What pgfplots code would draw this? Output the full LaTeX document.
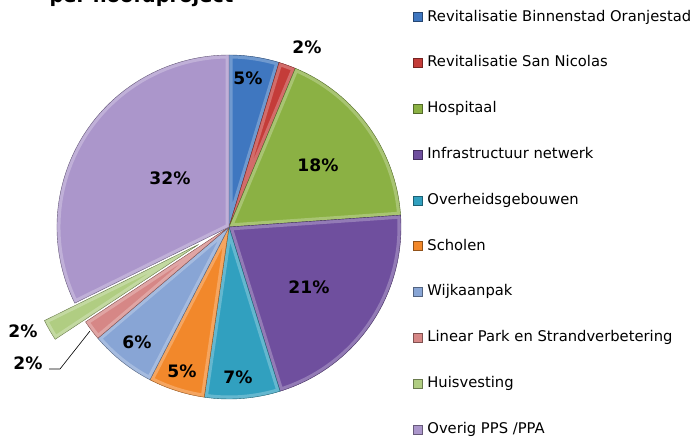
\documentclass[border=0pt]{standalone}
\usepackage{fontspec}
\setmainfont{DejaVu Sans}
\usepackage{pgfplots}
\pgfplotsset{compat=1.18}
\usepackage{pgfplotstable}
\usetikzlibrary{calc}

\definecolor{c0}{HTML}{3F77C0}
\definecolor{c1}{HTML}{C43C39}
\definecolor{c2}{HTML}{8BB144}
\definecolor{c3}{HTML}{6F4F9E}
\definecolor{c4}{HTML}{31A0BF}
\definecolor{c5}{HTML}{F2882B}
\definecolor{c6}{HTML}{88A5D5}
\definecolor{c7}{HTML}{D68786}
\definecolor{c8}{HTML}{B0CD82}
\definecolor{c9}{HTML}{AB96CB}

% share in percent, explode offset in bp
\pgfplotstableread{
pct   ex
4.7   0
1.6   0
17.6  0
21.3  0
7.1   0
5.3   0
6.2   0
1.9   0
2.0   35
32.3  0
}\piedata

\begin{document}
\begin{tikzpicture}
\begin{axis}[
  x=1bp, y=1bp, xmin=0, xmax=695, ymin=0, ymax=437,
  hide axis, clip=false,
  legend style={at={(axis cs:413,427)}, anchor=north west, draw=none, fill=none,
    font=\fontsize{14.8}{17}\selectfont, row sep=31.8bp, inner sep=0pt, outer sep=0pt,
    nodes={inner sep=0pt, text height=11bp, text depth=3bp},
    /tikz/every odd column/.append style={column sep=5bp}},
  legend cell align=left,
  legend image code/.code={\filldraw[#1] (0bp,-4.5bp) rectangle (9bp,4.5bp);},
]
\pgfplotsextra{%
  \gdef\cum{0}%
  \foreach \i in {0,...,9}{%
    \pgfplotstablegetelem{\i}{pct}\of\piedata \pgfmathsetmacro\v{\pgfplotsretval}%
    \pgfplotstablegetelem{\i}{ex}\of\piedata \pgfmathsetmacro\e{\pgfplotsretval}%
    \pgfmathsetmacro\a{90-3.6*\cum}%
    \pgfmathsetmacro\b{90-3.6*(\cum+\v)}%
    \pgfmathsetmacro\m{(\a+\b)/2}%
    \coordinate (O) at ($(axis cs:229,210)+(\m:\e bp)$);
    \begin{scope}
      \clip (O) -- ++(\a:172bp) arc[start angle=\a, end angle=\b, radius=172bp] -- cycle;
      \fill[c\i] (O) circle[radius=180bp];
      \draw[white, opacity=0.25, line width=7bp] (O) -- ++(\a:172bp) arc[start angle=\a, end angle=\b, radius=172bp] -- cycle;
    \end{scope}
    \draw[c\i!60!black, line width=0.4bp] (O) -- ++(\a:172bp) arc[start angle=\a, end angle=\b, radius=172bp] -- cycle;
    \pgfmathsetmacro\n{\cum+\v}\xdef\cum{\n}%
  }%
}
\addlegendimage{fill=c0, draw=c0!60!black}
\addlegendentry{Revitalisatie Binnenstad Oranjestad}
\addlegendimage{fill=c1, draw=c1!60!black}
\addlegendentry{Revitalisatie San Nicolas}
\addlegendimage{fill=c2, draw=c2!60!black}
\addlegendentry{Hospitaal}
\addlegendimage{fill=c3, draw=c3!60!black}
\addlegendentry{Infrastructuur netwerk}
\addlegendimage{fill=c4, draw=c4!60!black}
\addlegendentry{Overheidsgebouwen}
\addlegendimage{fill=c5, draw=c5!60!black}
\addlegendentry{Scholen}
\addlegendimage{fill=c6, draw=c6!60!black}
\addlegendentry{Wijkaanpak}
\addlegendimage{fill=c7, draw=c7!60!black}
\addlegendentry{Linear Park en Strandverbetering}
\addlegendimage{fill=c8, draw=c8!60!black}
\addlegendentry{Huisvesting}
\addlegendimage{fill=c9, draw=c9!60!black}
\addlegendentry{Overig PPS /PPA}

\begin{scope}[every node/.style={font=\bfseries\fontsize{17.2}{20}\selectfont}]
\node at (axis cs:307,390) {2\%};
\node at (axis cs:248,359) {5\%};
\node at (axis cs:318,272) {18\%};
\node at (axis cs:309,150) {21\%};
\node at (axis cs:238,60) {7\%};
\node at (axis cs:182,66) {5\%};
\node at (axis cs:137,95) {6\%};
\node at (axis cs:23,106) {2\%};
\node at (axis cs:28,74) {2\%};
\node at (axis cs:170,259) {32\%};
\end{scope}
\draw[black, line width=0.6bp] (axis cs:90,106) -- (axis cs:60,68) -- (axis cs:49,68);
\node[anchor=base west, font=\bfseries\fontsize{19.5}{22}\selectfont] at (axis cs:46,434.5) {per hoofdproject};
\end{axis}
\pgfresetboundingbox
\useasboundingbox (0,0) rectangle (695bp,437bp);
\end{tikzpicture}
\end{document}
